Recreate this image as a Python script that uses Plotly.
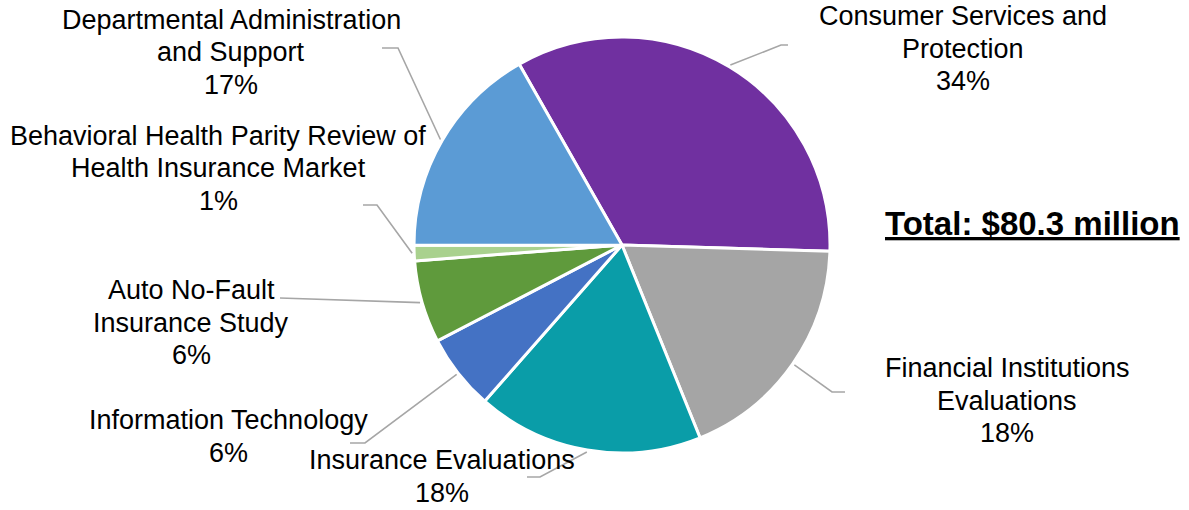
import math
import plotly.graph_objects as go

# ---------------- data ----------------
categories = [
    "Consumer Services and Protection",
    "Financial Institutions Evaluations",
    "Insurance Evaluations",
    "Information Technology",
    "Auto No-Fault Insurance Study",
    "Behavioral Health Parity Review of Health Insurance Market",
    "Departmental Administration and Support",
]
shares = [33.7, 18.4, 17.6, 5.9, 6.4, 1.2, 16.8]  # % of total budget
label_lines = [
    ["Consumer Services and", "Protection"],
    ["Financial Institutions", "Evaluations"],
    ["Insurance Evaluations"],
    ["Information Technology"],
    ["Auto No-Fault", "Insurance Study"],
    ["Behavioral Health Parity Review of", "Health Insurance Market"],
    ["Departmental Administration", "and Support"],
]
colors = ["#7030A0", "#A5A5A5", "#0A9DA8", "#4472C4", "#5F9A3C", "#A9D18E", "#5B9BD5"]
total_label = "Total: $80.3 million"

# ---------------- layout constants (pixels) ----------------
W, H = 1189, 510
CX, CY, R = 622, 245, 208
ROTATION = -29.6
FONT = "Liberation Sans, Arial, sans-serif"
LABEL_SIZE = 27
LINE_GAP = 32.5

# label block position: (center x, first-line y) ; leader line (elbow, end) in px
label_pos = [
    (963, 16), (1007, 368), (442, 460), (228, 420), (191, 290), (218, 136), (231, 20)
]
leader = [
    ((781, 45), (788, 45)),
    ((832, 392), (845, 392)),
    ((540, 477), (527, 477)),
    ((365, 443), (350, 443)),
    (None, (280, 298)),
    ((377, 205), (363, 205)),
    ((398, 48), (382, 48)),
]


def px(x):
    return x / W


def py(y):
    return 1 - y / H


fig = go.Figure(
    go.Pie(
        labels=categories,
        values=shares,
        sort=False,
        direction="clockwise",
        rotation=ROTATION,
        textinfo="none",
        hoverinfo="label+percent",
        marker=dict(colors=colors, line=dict(color="white", width=3)),
        domain=dict(x=[px(CX - R), px(CX + R)], y=[py(CY + R), py(CY - R)]),
        showlegend=False,
    )
)

total = sum(shares)
annotations = []
shapes = []
acc = 0.0
for i, v in enumerate(shares):
    mid = ROTATION + (acc + v / 2) / total * 360.0
    acc += v
    a = math.radians(mid)
    sx = CX + (R + 2) * math.sin(a)
    sy = CY - (R + 2) * math.cos(a)
    elbow, end = leader[i]
    pts = [(sx, sy)] + ([elbow] if elbow else []) + [end]
    path = "M " + " L ".join(f"{px(x):.5f},{py(y):.5f}" for x, y in pts)
    shapes.append(dict(type="path", xref="paper", yref="paper", path=path,
                       line=dict(color="#A6A6A6", width=1.6)))

    lx, ly = label_pos[i]
    lines = label_lines[i] + [f"{round(v / total * 100)}%"]
    for k, t in enumerate(lines):
        annotations.append(dict(
            text=t, x=px(lx), y=py(ly + k * LINE_GAP), xref="paper", yref="paper",
            xanchor="center", yanchor="middle", showarrow=False,
            font=dict(family=FONT, size=LABEL_SIZE, color="#000000"),
        ))

annotations.append(dict(
    text=f"<b><u>{total_label}</u></b>", x=px(1032), y=py(223), xref="paper", yref="paper",
    xanchor="center", yanchor="middle", showarrow=False,
    font=dict(family=FONT, size=33, color="#000000"),
))

fig.update_layout(
    width=W, height=H,
    margin=dict(l=0, r=0, t=0, b=0),
    paper_bgcolor="white", plot_bgcolor="white",
    annotations=annotations, shapes=shapes,
)

fig.write_html(
    "out.html",
    config={"displayModeBar": False},
    post_script="document.body.style.margin='0';document.body.style.overflow='hidden';",
)
